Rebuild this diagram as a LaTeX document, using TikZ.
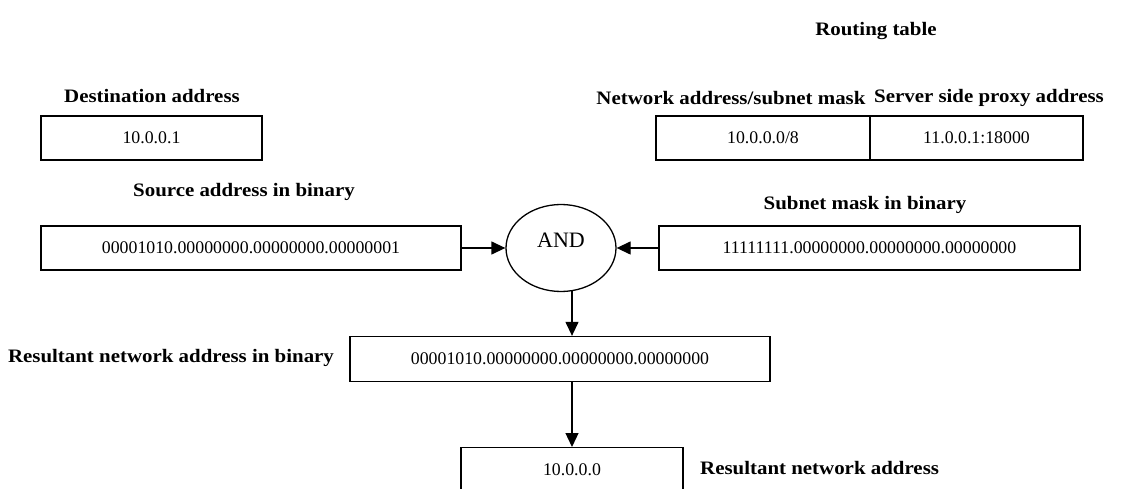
\documentclass[tikz,border=0pt]{standalone}
\usepackage{fontspec}
\setmainfont{Liberation Serif}
\newfontfamily\headfont[FakeStretch=1.1]{Liberation Serif}
\usetikzlibrary{arrows.meta,shapes.geometric}
\begin{document}
\begin{tikzpicture}[x=1pt,y=-1pt,
  box/.style={draw,line width=1.3pt,rectangle,inner sep=0pt,minimum height=44pt,font=\fontsize{17.8}{20}\selectfont},
  lbl/.style={inner sep=0pt,font=\headfont\fontsize{19}{22}\selectfont\bfseries},
  flow/.style={line width=1.3pt,-{Triangle[length=14pt,width=13pt]}}]
\useasboundingbox (0,0) rectangle (1122,489);

% headings
\node[lbl] (rtl) at (876,31) {Routing table};
\node[lbl] (dstl) at (152,96) {Destination address};
\node[lbl] (netl) at (731,98) {Network address/subnet mask};
\node[lbl] (srvl) at (989,98) {Server side proxy address};
\node[lbl] (srcl) at (244,192) {Source address in binary};
\node[lbl] (mskl) at (865,205) {Subnet mask in binary};
\node[lbl] (resl) at (171,358) {Resultant network address in binary};
\node[lbl,anchor=west] (netal) at (700,468) {Resultant network address};

% destination address
\node[box,minimum width=221pt] (dst) at (151.5,138) {10.0.0.1};

% routing table row
\node[box,minimum width=214pt] (rnet) at (763,138) {10.0.0.0/8};
\node[box,minimum width=213pt] (rsrv) at (976.5,138) {11.0.0.1:18000};

% binary operands and the AND operation
\node[box,minimum width=420pt] (src) at (251,248) {00001010.00000000.00000000.00000001};
\node[box,minimum width=421pt] (msk) at (869.5,248) {11111111.00000000.00000000.00000000};
\node[draw,line width=1.3pt,ellipse,minimum width=110pt,minimum height=87pt,inner sep=0pt,
      font=\fontsize{22}{24}\selectfont] (and) at (561,248) {\raisebox{16pt}{AND}};

% results (the last box runs past the lower edge)
\node[box,minimum width=420pt,minimum height=45pt] (res) at (560,359) {00001010.00000000.00000000.00000000};
\node[box,minimum width=222pt,minimum height=44pt,anchor=north] (neta) at (572,447) {10.0.0.0};

% connectors
\draw[flow] (neta.north |- and.south) ++(0,-1) -- (neta.north |- res.north);
\draw[flow] (src.east) -- (and.west);
\draw[flow] (msk.west) -- (and.east);
\draw[flow] (neta.north |- res.south) -- (neta.north);
\end{tikzpicture}
\end{document}
